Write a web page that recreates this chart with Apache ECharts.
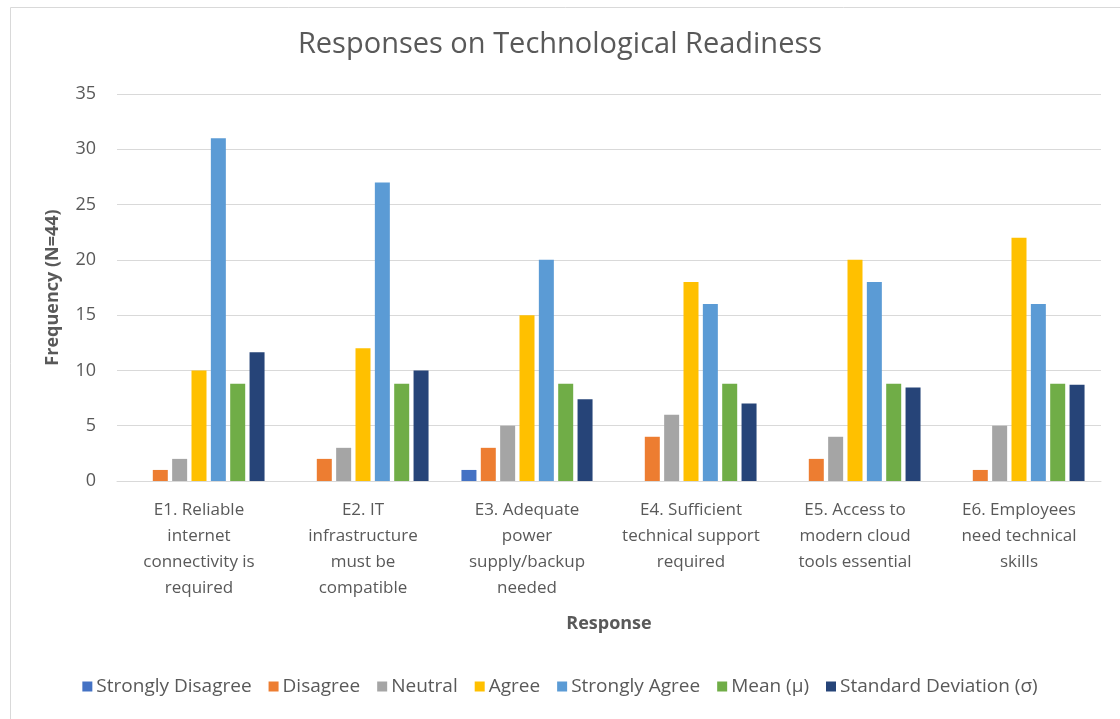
<!DOCTYPE html>
<html>
<head>
<meta charset="utf-8">
<script src="https://cdn.jsdelivr.net/npm/echarts@6/dist/echarts.min.js"></script>
<style>
html,body{margin:0;padding:0;background:#fff;}
#c{width:1120px;height:719px;}
</style>
</head>
<body>
<div id="c"></div>
<script>
const categories = [
  "E1. Reliable\ninternet\nconnectivity is\nrequired",
  "E2. IT\ninfrastructure\nmust be\ncompatible",
  "E3. Adequate\npower\nsupply/backup\nneeded",
  "E4. Sufficient\ntechnical support\nrequired",
  "E5. Access to\nmodern cloud\ntools essential",
  "E6. Employees\nneed technical\nskills"
];
const seriesNames = ["Strongly Disagree","Disagree","Neutral","Agree","Strongly Agree","Mean (\u03bc)","Standard Deviation (\u03c3)"];
const stronglyDisagree = [0, 0, 1, 0, 0, 0];
const disagree = [1, 2, 3, 4, 2, 1];
const neutral = [2, 3, 5, 6, 4, 5];
const agree = [10, 12, 15, 18, 20, 22];
const stronglyAgree = [31, 27, 20, 16, 18, 16];
const mean = [8.8, 8.8, 8.8, 8.8, 8.8, 8.8];
const stdDev = [11.65, 9.99, 7.39, 7.0, 8.45, 8.7];
const yTicks = [0, 5, 10, 15, 20, 25, 30, 35];

const colors = ["#4472C4","#ED7D31","#A5A5A5","#FFC000","#5B9BD5","#70AD47","#264478"];
const allData = [stronglyDisagree, disagree, neutral, agree, stronglyAgree, mean, stdDev];
const FONT = "'Open Sans', 'Liberation Sans', sans-serif";

const chart = echarts.init(document.getElementById('c'), null, {renderer:'canvas'});
chart.setOption({
  animation: false,
  color: colors,
  textStyle: {fontFamily: FONT},
  graphic: [{
    type: 'rect', left: 8, top: 5, silent: true, z: -1,
    shape: {x: 0, y: 0, width: 1130, height: 730},
    style: {fill: 'none', stroke: '#d9d9d9', lineWidth: 1}
  }],
  title: {
    text: 'Responses on Technological Readiness',
    left: 'center', top: 25,
    textStyle: {fontFamily: FONT, fontSize: 29, fontWeight: 'normal', color: '#595959'}
  },
  grid: {left: 117, right: 19, top: 94, bottom: 238, containLabel: false},
  legend: {
    bottom: 18, left: 'center',
    itemWidth: 10, itemHeight: 10, itemGap: 17,
    icon: 'rect',
    textStyle: {fontFamily: FONT, fontSize: 19, color: '#595959', padding: [0,0,0,-1]},
    data: seriesNames
  },
  xAxis: {
    type: 'category',
    data: categories,
    name: 'Response',
    nameLocation: 'middle',
    nameGap: 134,
    nameTextStyle: {fontFamily: FONT, fontSize: 18, fontWeight: 'bold', color: '#595959'},
    axisLine: {show: true, lineStyle: {color: '#d9d9d9', width: 1}},
    axisTick: {show: false},
    axisLabel: {fontFamily: FONT, fontSize: 17, color: '#595959', lineHeight: 26, margin: 16, interval: 0}
  },
  yAxis: {
    type: 'value',
    min: yTicks[0], max: yTicks[yTicks.length-1], interval: 5,
    name: 'Frequency (N=44)',
    nameLocation: 'middle',
    nameGap: 55,
    nameTextStyle: {fontFamily: FONT, fontSize: 18, fontWeight: 'bold', color: '#595959'},
    axisLine: {show: false},
    axisTick: {show: false},
    splitLine: {lineStyle: {color: '#d9d9d9', width: 1}},
    axisLabel: {fontFamily: FONT, fontSize: 18, color: '#595959', margin: 21}
  },
  series: seriesNames.map((n, i) => ({
    name: n,
    type: 'bar',
    data: allData[i],
    barWidth: 15,
    barGap: '29%'
  }))
});
</script>
</body>
</html>
